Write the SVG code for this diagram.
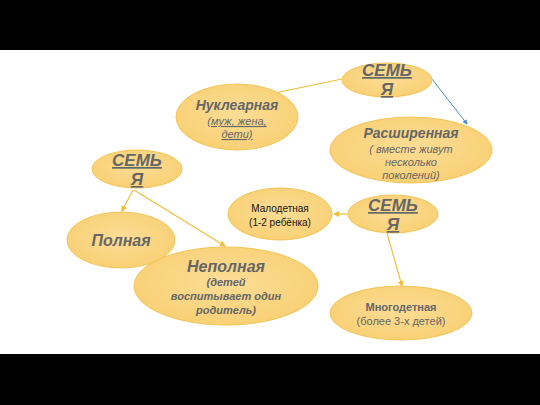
<svg xmlns="http://www.w3.org/2000/svg" width="540" height="405" viewBox="0 0 540 405">
<defs>
<radialGradient id="g" cx="50%" cy="45%" r="60%">
<stop offset="0" stop-color="#FCDD96"/>
<stop offset="1" stop-color="#F8CF72"/>
</radialGradient>
<marker id="ay" viewBox="0 0 6 6" refX="5" refY="3" markerWidth="5" markerHeight="5" orient="auto"><path d="M0,0 L6,3 L0,6 z" fill="#F0BE3C"/></marker>
<marker id="ab" viewBox="0 0 6 6" refX="5" refY="3" markerWidth="5" markerHeight="5" orient="auto"><path d="M0,0 L6,3 L0,6 z" fill="#4A90C8"/></marker>
</defs>
<style>
.n{fill:url(#g);stroke:#F3C457;stroke-width:1}
.t{font-family:"Liberation Sans",Arial,sans-serif;fill:#666;text-anchor:middle}
.h{font-weight:bold;font-style:italic;font-size:17px;text-decoration:underline}
.b{font-weight:bold;font-style:italic;font-size:14px}
.s{font-style:italic;font-size:11px}
.c{stroke:#F0BE3C;stroke-width:1.2;fill:none}
</style>
<rect width="540" height="405" fill="#fff"/>
<rect x="0" y="0" width="540" height="50" fill="#000"/>
<rect x="0" y="354" width="540" height="51" fill="#000"/>
<g id="connectors">
<line class="c" x1="342" y1="79" x2="275" y2="93"/>
<line x1="432" y1="79" x2="467" y2="124" stroke="#4A90C8" stroke-width="1" marker-end="url(#ab)"/>
<line class="c" x1="133" y1="190" x2="122" y2="211" marker-end="url(#ay)"/>
<line class="c" x1="134" y1="190" x2="225" y2="246" marker-end="url(#ay)"/>
<line class="c" x1="348" y1="214" x2="334" y2="214" marker-end="url(#ay)"/>
<line class="c" x1="387" y1="233" x2="402" y2="286" marker-end="url(#ay)"/>
</g>
<g id="nuclear">
<ellipse class="n" cx="237" cy="117" rx="61" ry="33"/>
<text class="t b" x="237" y="110">Нуклеарная</text>
<text class="t s" x="237" y="125" text-decoration="underline">(муж, жена,</text>
<text class="t s" x="237" y="138" text-decoration="underline">дети)</text>
</g>
<g id="family-top">
<ellipse class="n" cx="387" cy="80" rx="45" ry="17"/>
<text class="t h" x="387" y="76">СЕМЬ</text>
<text class="t h" x="387" y="95">Я</text>
</g>
<g id="extended">
<ellipse class="n" cx="411" cy="150" rx="81" ry="33"/>
<text class="t b" x="411" y="138">Расширенная</text>
<text class="t s" x="411" y="153">( вместе живут</text>
<text class="t s" x="411" y="166">несколько</text>
<text class="t s" x="411" y="179">поколений)</text>
</g>
<g id="family-left">
<ellipse class="n" cx="137" cy="169" rx="45" ry="19"/>
<text class="t h" x="137" y="166">СЕМЬ</text>
<text class="t h" x="137" y="185">Я</text>
</g>
<g id="full">
<ellipse class="n" cx="121" cy="240" rx="54" ry="28"/>
<text class="t b" x="121" y="246" font-size="16" style="font-size:16px">Полная</text>
</g>
<g id="incomplete">
<ellipse class="n" cx="226" cy="286" rx="92" ry="39"/>
<text class="t b" x="226" y="272" style="font-size:16px">Неполная</text>
<text class="t s" x="226" y="286" font-weight="bold">(детей</text>
<text class="t s" x="226" y="300" font-weight="bold">воспитывает один</text>
<text class="t s" x="226" y="314" font-weight="bold">родитель)</text>
</g>
<g id="small">
<ellipse class="n" cx="280" cy="214" rx="52" ry="26"/>
<text class="t" x="280" y="212" font-size="10" style="fill:#111">Малодетная</text>
<text class="t" x="280" y="226" font-size="10" style="fill:#111">(1-2 ребёнка)</text>
</g>
<g id="family-right">
<ellipse class="n" cx="393" cy="214" rx="45" ry="19"/>
<text class="t h" x="393" y="211">СЕМЬ</text>
<text class="t h" x="393" y="230">Я</text>
</g>
<g id="large">
<ellipse class="n" cx="401" cy="313" rx="71" ry="27"/>
<text class="t" x="401" y="311" font-size="11" font-weight="bold">Многодетная</text>
<text class="t" x="401" y="325" font-size="11">(более 3-х детей)</text>
</g>
</svg>
